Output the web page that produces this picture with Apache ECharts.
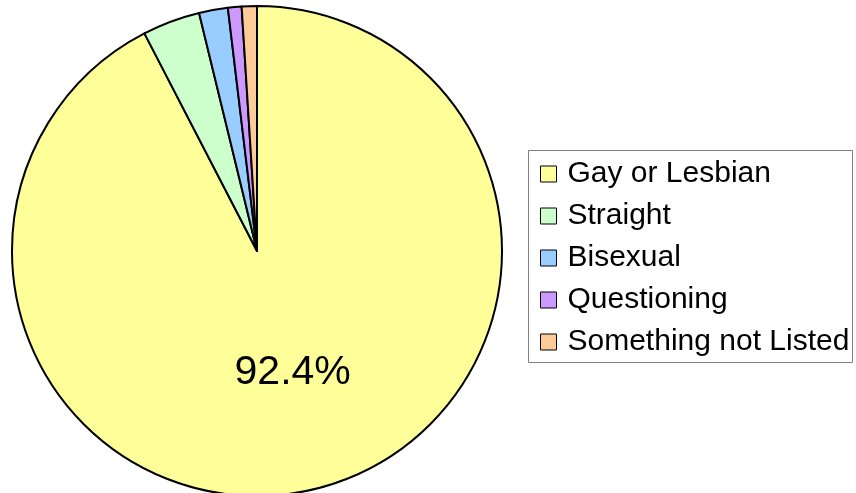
<!DOCTYPE html>
<html>
<head>
<meta charset="utf-8">
<script src="https://cdn.jsdelivr.net/npm/echarts@6/dist/echarts.min.js"></script>
<style>
html,body{margin:0;padding:0;background:#fff;}
#chart{width:856px;height:493px;}
</style>
</head>
<body>
<div id="chart"></div>
<script>
const categories = ["Gay or Lesbian", "Straight", "Bisexual", "Questioning", "Something not Listed"];
const values = [92.4, 3.8, 1.9, 0.9, 1.0];
const colors = ["#FFFF99", "#CCFFCC", "#99CCFF", "#CC99FF", "#FFCC99"];

const chart = echarts.init(document.getElementById('chart'), null, {renderer: 'canvas'});
const data = categories.map((name, i) => ({
  name: name,
  value: values[i],
  itemStyle: {color: colors[i]},
  label: {show: i === 0}
}));
chart.setOption({
  animation: false,
  backgroundColor: '#ffffff',
  graphic: [{
    type: 'rect',
    shape: {x: 528.5, y: 150.5, width: 324, height: 212},
    style: {fill: '#ffffff', stroke: '#808080', lineWidth: 1},
    z: 0
  }],
  legend: {
    orient: 'vertical',
    left: 540,
    top: 159,
    itemWidth: 16,
    itemHeight: 16,
    itemGap: 12,
    icon: 'rect',
    padding: 0,
    itemStyle: {borderColor: '#000', borderWidth: 1},
    textStyle: {fontFamily: 'Liberation Sans, Arial, sans-serif', fontSize: 30, color: '#000', lineHeight: 30, padding: [0, 0, 0, 6]},
    data: categories,
    z: 5
  },
  series: [{
    type: 'pie',
    center: [257, 251],
    radius: 245,
    startAngle: 90,
    clockwise: true,
    avoidLabelOverlap: false,
    itemStyle: {borderColor: '#000', borderWidth: 2},
    label: {
      position: 'inner',
      formatter: (p) => p.value.toFixed(1) + '%',
      fontFamily: 'Liberation Sans, Arial, sans-serif',
      fontSize: 41,
      color: '#000',
      padding: [0, 0, 4, 12]
    },
    labelLine: {show: false},
    emphasis: {disabled: true},
    data: data
  }]
});
</script>
</body>
</html>
